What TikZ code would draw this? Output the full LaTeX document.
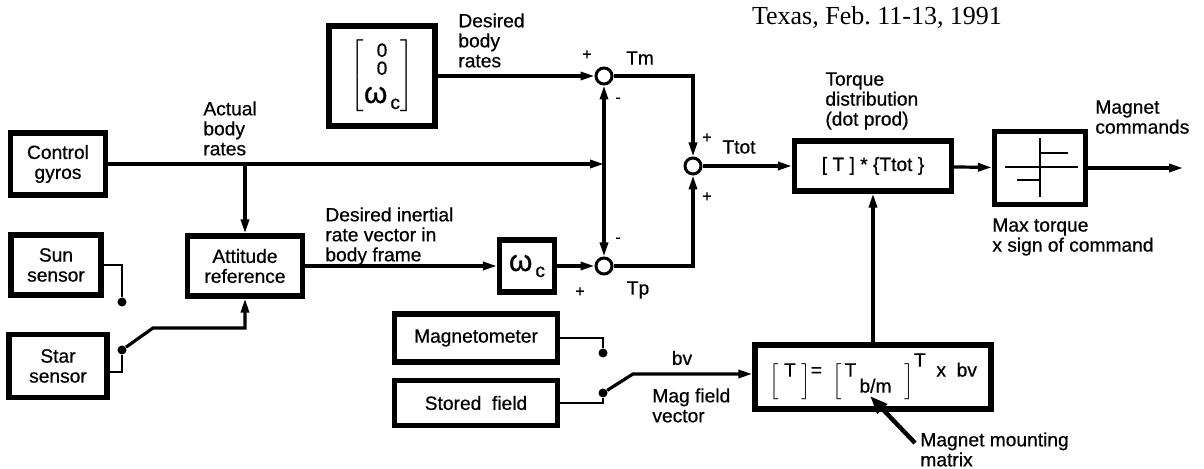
\documentclass[tikz,border=0pt]{standalone}
\usepackage{fontspec}
\setmainfont{Liberation Sans}[BoldFont=Liberation Sans, BoldFeatures={FakeBold=0.6}]
\newfontfamily\titlefont{Liberation Serif}
\usetikzlibrary{arrows.meta}
\newcommand{\lbrk}{\raisebox{-5pt}{$\left[\rule[-7pt]{0pt}{19pt}\right.$}}
\newcommand{\rbrk}{\raisebox{-5pt}{$\left.\rule[-7pt]{0pt}{19pt}\right]$}}

\begin{document}
\begin{tikzpicture}[
        x=0.5pt, y=-0.5pt,
        >={Triangle[length=7pt,width=4pt]},
        every node/.style={font=\fontsize{9.6}{10}\selectfont\bfseries, inner sep=0pt},
        block/.style={draw, line width=2.6pt, align=center},
        sumnode/.style={draw, circle, line width=1.5pt, minimum size=8pt},
        contact/.style={fill, circle, minimum size=4.5pt},
        txt/.style={align=left, anchor=north west},
        sgn/.style={font=\fontsize{8}{8}\selectfont\bfseries},
        link/.style={line width=1.6pt},
        wire/.style={line width=1.3pt},
    ]
    \useasboundingbox (0,0) rectangle (1204,469);
    % blocks
    \node[block, minimum width=47.5pt, minimum height=31pt](gyros) at (58,164){Control\\gyros};
    \node[block, minimum width=45pt, minimum height=30pt](sun) at (56,265){Sun\\sensor};
    \node[block, minimum width=49pt, minimum height=31.5pt](star) at (58,366){Star\\sensor};
    \node[block, minimum width=57.5pt, minimum height=30pt](attref) at (245,266){Attitude\\reference};
    \node[block, minimum width=53pt, minimum height=50pt](wmat) at (382,76){$\left[\rule[-17pt]{0pt}{39pt}\begin{tabular}{@{}c@{}}\fontsize{9.5}{9}\selectfont 0\\[-1pt]\fontsize{9.5}{9}\selectfont 0\\[3pt]{\fontsize{15}{15}\selectfont ω}\kern1.5pt\raisebox{-3pt}{c}\end{tabular}\right]$};
    \node[block, minimum width=27.5pt, minimum height=26pt](wc) at (527,266){{\fontsize{15}{15}\selectfont ω}\kern1.5pt\raisebox{-3pt}{c}};
    \node[block, minimum width=78.5pt, minimum height=25pt](torq) at (873,166){[ T ] * \{Ttot \}};
    \node[block, minimum width=45.5pt, minimum height=36.5pt](sat) at (1040,168){};
    \node[block, minimum width=81.5pt, minimum height=24pt](magm) at (476,338){Magnetometer};
    \node[block, minimum width=81.5pt, minimum height=22.5pt](stored) at (476,403){Stored\ \ field};
    \node[block, minimum width=118pt, minimum height=32pt](tbox) at (873,377){\lbrk\,T\,\rbrk= \ \lbrk T\raisebox{-8pt}{\,b/m}\ \ \rbrk\raisebox{5pt}{T} \ x\ \ bv};
    % summing junctions
    \node[sumnode](Tm) at (604,76){};
    \node[sumnode](Tp) at (604,266){};
    \node[sumnode](Ttot) at (693,166){};
    % switch contacts
    \node[contact](sundot) at (122,302){};
    \node[contact](stardot) at (122,350){};
    \node[contact](magdot) at (603,353){};
    \node[contact](fielddot) at (603,393){};
    \coordinate (jA) at (604,164);
    \coordinate (jB) at (245,164);
    \coordinate (starsw) at (153,328);
    \coordinate (magsw) at (633,374);
    \coordinate (cmdout) at (1183,168);
    \coordinate (mmtail) at (915,443);
    \coordinate (mmtip) at (870,396);
    % limiter symbol
    \begin{scope}[shift={(sat.center)}, wire]
        \draw (0,-30) -- (0,29);
        \draw (-35,-1) -- (38,-1);
        \draw (0,-15) -- (28,-15);
        \draw (-23,12) -- (0,12);
    \end{scope}
    % connectors
    \draw[link, ->] (wmat) -- (Tm);
    \draw[link, <->] (Tm) -- (Tp);
    \draw[link, ->] (gyros) -- (jA);
    \draw[link, ->] (jB) -- (attref);
    \draw[link, ->] (attref) -- (wc);
    \draw[link, ->] (wc) -- (Tp);
    \draw[link, ->] (Tm) -| (Ttot);
    \draw[link, ->] (Tp) -| (Ttot);
    \draw[link, ->] (Ttot) -- (torq);
    \draw[link, ->] (torq) -- (sat);
    \draw[link, ->] (sat) -- (cmdout);
    \draw[link, ->] (tbox) -- (torq);
    \draw[wire] (sun) -| (sundot);
    \draw[wire] ([yshift=-3pt]star.east) -| (stardot);
    \draw[link, ->] (stardot) -- (starsw) -| (attref);
    \draw[wire] (magm) -| (magdot);
    \draw[wire] (stored) -| (fielddot);
    \draw[link, ->] (fielddot) -- (magsw) -- (magsw -| tbox.west);
    \draw[line width=2.2pt, -{Triangle[length=9pt,width=6.5pt]}] (mmtail) -- (mmtip);
    % labels
    \node[txt](abr) at (203,101){Actual\\body\\rates};
    \node[txt](dbr) at (458,13){Desired\\body\\rates};
    \node[txt](dir) at (325,207){Desired inertial\\rate vector in\\body frame};
    \node[txt](tdl) at (825,72){Torque\\distribution\\(dot prod)};
    \node[txt](mcl) at (1095,100){Magnet\\commands};
    \node[txt](mtl) at (992,218){Max torque\\x sign of command};
    \node(bvl) at (682,358){bv};
    \node[txt](mfv) at (652,388){Mag field\\vector};
    \node[txt](mmm) at (920,432){Magnet mounting\\matrix};
    \node(tml) at (640,58){Tm};
    \node(tpl) at (638,290){Tp};
    \node(ttl) at (739,147){Ttot};
    \node[sgn] at (587,55){+};
    \node[sgn] at (618,100){-};
    \node[sgn] at (707,138){+};
    \node[sgn] at (707,197){+};
    \node[sgn] at (618,240){-};
    \node[sgn] at (580,292){+};
    \node[anchor=base, font=\titlefont\fontsize{13}{13}\selectfont](title) at (877,25){Texas, Feb.\ 11-13, 1991};
\end{tikzpicture}
\end{document}
